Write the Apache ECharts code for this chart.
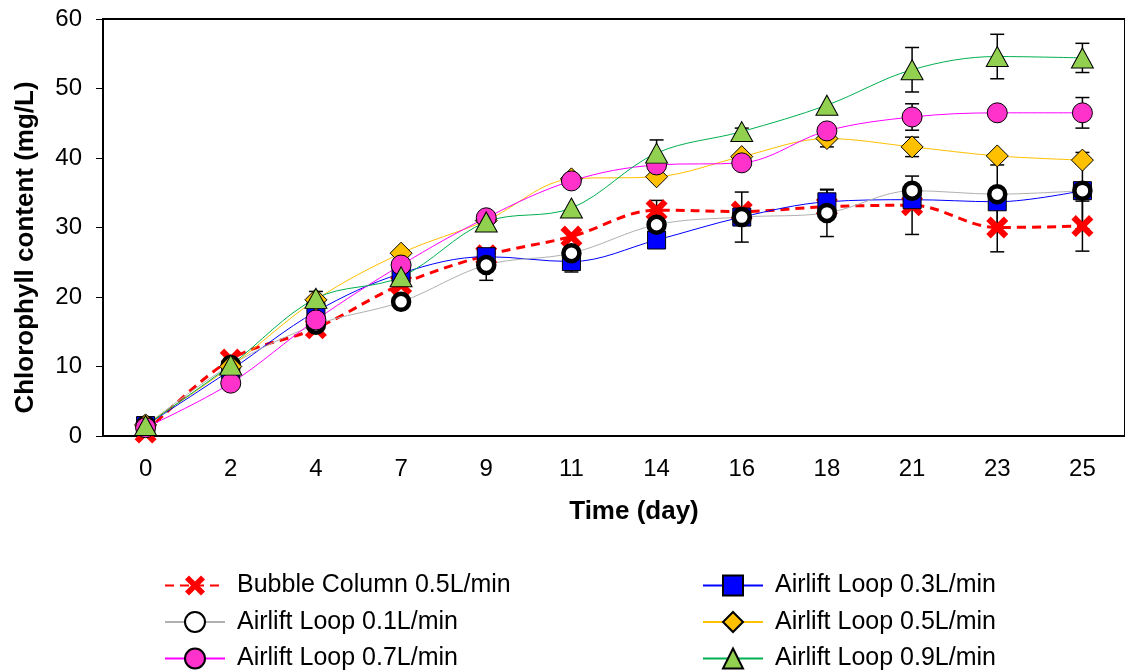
<!DOCTYPE html>
<html><head><meta charset="utf-8">
<script src="https://cdn.jsdelivr.net/npm/echarts@6/dist/echarts.min.js"></script>
<style>html,body{margin:0;padding:0;background:#fff}#c{width:1125px;height:672px}</style>
</head><body><div id="c"></div>
<script>
const days = ['0','2','4','7','9','11','14','16','18','21','23','25'];
const bubble05 = [0.5, 11, 15.5, 21.8, 26, 28.7, 32.5, 32.3, 33, 33.2, 30, 30.2];
const airlift03 = [1.5, 9.5, 17.9, 23.4, 25.8, 25.1, 28.2, 31.5, 33.7, 34, 33.7, 35.3];
const airlift01 = [1.5, 10.2, 16, 19.3, 24.6, 26.3, 30.4, 31.5, 32.1, 35.3, 34.8, 35.3];
const airlift05 = [1.6, 10, 19.6, 26.3, 31, 37, 37.3, 40.2, 42.8, 41.6, 40.3, 39.7];
const airlift07 = [1.2, 7.6, 16.7, 24.6, 31.4, 36.7, 39, 39.3, 43.9, 45.9, 46.5, 46.5];
const airlift09 = [1.5, 10.2, 19.8, 22.9, 30.8, 32.8, 40.7, 43.8, 47.6, 52.7, 54.6, 54.4];
const bubble05Err = [0, 0, 0, 0.5, 0, 0, 1.4, 0, 0, 4.2, 3.5, 3.6];
const airlift03Err = [0, 0, 0, 0, 0, 1.5, 0, 0, 1.7, 0, 0, 0];
const airlift01Err = [0, 0, 0, 0, 2.2, 0, 0, 3.6, 3.4, 0, 4.2, 5.5];
const airlift05Err = [0, 0, 0, 0, 0, 0, 0, 0, 1.2, 1.4, 0, 0.5];
const airlift07Err = [0, 0, 0, 0, 0, 0, 0, 0, 1, 1.9, 0, 2.2];
const airlift09Err = [0, 0, 1, 0, 0, 0, 1.9, 0.5, 0, 3.2, 3.2, 2.1];
const names = ['Bubble Column 0.5L/min','Airlift Loop 0.3L/min','Airlift Loop 0.1L/min','Airlift Loop 0.5L/min','Airlift Loop 0.7L/min','Airlift Loop 0.9L/min'];
const xPath = 'path://M0,2 L2,0 L5,3 L8,0 L10,2 L7,5 L10,8 L8,10 L5,7 L2,10 L0,8 L3,5 Z';

const chart = echarts.init(document.getElementById('c'));
function errSeries(vals, errs) {
  const data = [];
  vals.forEach((v, i) => { if (errs[i] > 0) data.push([i, v - errs[i], v + errs[i]]); });
  return {
    type: 'custom', z: 1, silent: true,
    encode: { x: 0, y: [1, 2] },
    data: data,
    renderItem: function (params, api) {
      const lo = api.coord([api.value(0), api.value(1)]);
      const hi = api.coord([api.value(0), api.value(2)]);
      const w = 7;
      const st = { stroke: '#000', lineWidth: 1.5 };
      return { type: 'group', children: [
        { type: 'line', shape: { x1: lo[0], y1: lo[1], x2: hi[0], y2: hi[1] }, style: st },
        { type: 'line', shape: { x1: lo[0] - w, y1: lo[1], x2: lo[0] + w, y2: lo[1] }, style: st },
        { type: 'line', shape: { x1: hi[0] - w, y1: hi[1], x2: hi[0] + w, y2: hi[1] }, style: st }
      ]};
    }
  };
}
function lineSeries(name, vals, opt) {
  return Object.assign({
    name: name, type: 'line', data: vals, smooth: 0.35, z: 3,
    symbolKeepAspect: true
  }, opt);
}
const labelFont = { fontFamily: 'Liberation Sans, Arial, sans-serif', color: '#000' };
const legendCommon = { orient: 'vertical', top: 573, padding: 0, itemWidth: 60, itemHeight: 25, itemGap: 11.5,
  textStyle: Object.assign({ fontSize: 25, padding: [0, 0, 0, 7] }, labelFont) };
chart.setOption({
  animation: false,
  backgroundColor: '#fff',
  grid: { left: 103, top: 19, right: -11, bottom: 236, show: true, borderColor: '#000', borderWidth: 2 },
  xAxis: {
    type: 'category', data: days, boundaryGap: true,
    name: 'Time (day)', nameLocation: 'middle', nameGap: 63,
    nameTextStyle: Object.assign({ fontSize: 26, fontWeight: 'bold', padding: [0, 0, 0, 40] }, labelFont),
    axisLine: { lineStyle: { color: '#000', width: 2 } },
    axisTick: { alignWithLabel: true, length: 6, lineStyle: { color: '#000' } },
    axisLabel: Object.assign({ fontSize: 24, margin: 21 }, labelFont),
    splitLine: { show: false }
  },
  yAxis: {
    type: 'value', min: 0, max: 60, interval: 10,
    name: 'Chlorophyll content (mg/L)', nameLocation: 'middle', nameGap: 64,
    nameTextStyle: Object.assign({ fontSize: 26, fontWeight: 'bold', padding: [0, 40, 0, 0] }, labelFont),
    axisLine: { show: true, lineStyle: { color: '#000', width: 2 } },
    axisTick: { show: true, length: 7, lineStyle: { color: '#000' } },
    axisLabel: Object.assign({ fontSize: 24, margin: 21 }, labelFont),
    splitLine: { show: false }
  },
  legend: [
    Object.assign({ left: 164, data: [names[0], names[2], names[4]] }, legendCommon),
    Object.assign({ left: 702, data: [names[1], names[3], names[5]] }, legendCommon)
  ],
  series: [
    errSeries(bubble05, bubble05Err),
    errSeries(airlift03, airlift03Err),
    errSeries(airlift01, airlift01Err),
    errSeries(airlift05, airlift05Err),
    errSeries(airlift07, airlift07Err),
    errSeries(airlift09, airlift09Err),
    lineSeries(names[0], bubble05, { symbol: xPath, symbolSize: 22,
      itemStyle: { color: '#ff0000' }, lineStyle: { color: '#ff0000', width: 3, type: [9, 6] } }),
    lineSeries(names[1], airlift03, { symbol: 'rect', symbolSize: 18,
      itemStyle: { color: '#0000ff', borderColor: '#000', borderWidth: 1 }, lineStyle: { color: '#0000ff', width: 1 } }),
    lineSeries(names[2], airlift01, { symbol: 'circle', symbolSize: 16,
      itemStyle: { color: '#ffffff', borderColor: '#000', borderWidth: 4.5 }, lineStyle: { color: '#b0b0b0', width: 1 } }),
    lineSeries(names[3], airlift05, { symbol: 'diamond', symbolSize: [22, 22],
      itemStyle: { color: '#ffc000', borderColor: '#000', borderWidth: 1 }, lineStyle: { color: '#ffc000', width: 1 } }),
    lineSeries(names[4], airlift07, { symbol: 'circle', symbolSize: 20,
      itemStyle: { color: '#ff33cc', borderColor: '#000', borderWidth: 1 }, lineStyle: { color: '#ff00ff', width: 1 } }),
    lineSeries(names[5], airlift09, { symbol: 'triangle', symbolSize: [22, 20],
      itemStyle: { color: '#92d050', borderColor: '#000', borderWidth: 1 }, lineStyle: { color: '#00b050', width: 1 } })
  ]
});
</script></body></html>
